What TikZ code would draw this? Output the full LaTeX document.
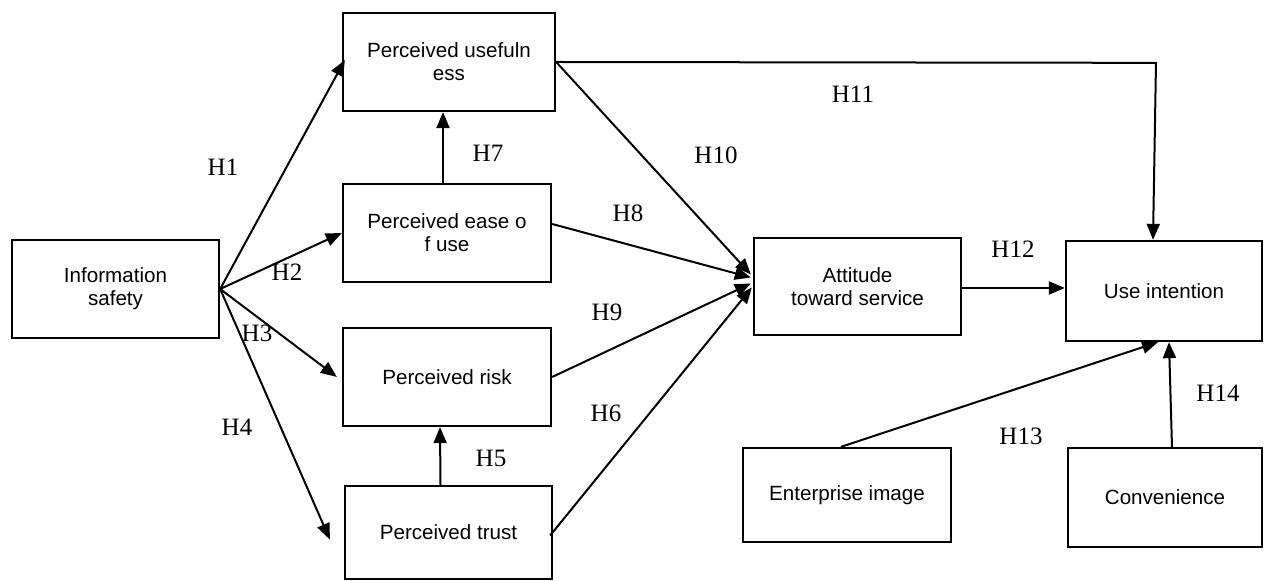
\documentclass[tikz,border=0pt]{standalone}
\usepackage{fontspec}
\setmainfont{Liberation Serif}
\setsansfont{Liberation Sans}
\usetikzlibrary{arrows.meta,calc}
\begin{document}
\begin{tikzpicture}[x=0.5pt,y=-0.5pt,
  box/.style={draw,line width=1.15pt,inner sep=0pt,align=center,
    font=\sffamily\fontsize{10.3}{11.5}\selectfont},
  arr/.style={line width=1pt,-{Triangle[length=8pt,width=6.5pt]}},
  lab/.style={font=\fontsize{12.5}{14}\selectfont,inner sep=0pt}]
\useasboundingbox (0,0) rectangle (1265,581);
% boxes
\node[box,minimum width=103.5pt,minimum height=49pt] (info) at (115.5,289) {Information\\safety};
\node[box,minimum width=106pt,minimum height=49pt] (pu) at (449,62) {Perceived usefuln\\ess};
\node[box,minimum width=104pt,minimum height=49pt] (peou) at (447,233) {Perceived ease o\\f use};
\node[box,minimum width=104pt,minimum height=49pt] (risk) at (447,377) {Perceived risk};
\node[box,minimum width=103.5pt,minimum height=46.5pt] (trust) at (448.5,532.5) {Perceived trust};
\node[box,minimum width=103.5pt,minimum height=48.5pt] (att) at (857.5,286.5) {Attitude\\toward service};
\node[box,minimum width=98pt,minimum height=50pt] (ui) at (1164,291) {Use intention};
\node[box,minimum width=104pt,minimum height=47pt] (ent) at (847,495) {Enterprise image};
\node[box,minimum width=97pt,minimum height=49.5pt] (conv) at (1165,497.5) {Convenience};
% connectors
\draw[arr] (info.east) -- ($(pu.west)+(3,-2)$);
\draw[arr] (info.east) -- (peou.west);
\draw[arr] (info.east) -- ($(risk.west)+(-5,0)$);
\draw[arr] (info.east) -- ($(trust.west)+(-14,7)$);
\draw[arr] ($(peou.north)+(-4,0)$) -- ($(pu.south)+(-6,0)$);
\draw[arr] ($(trust.north)+(-8,0)$) -- ($(risk.south)+(-7,0)$);
\draw[arr] (pu.east) -- ($(att.west)+(-2,-12)$);
\draw[arr] ($(peou.east)+(0,-9)$) -- ($(att.west)+(-2,-9)$);
\draw[arr] (risk.east) -- ($(att.west)+(-2,-3)$);
\draw[arr] ($(trust.east)+(-3,3)$) -- ($(att.west)+(-1,1)$);
\draw[arr] (pu.east) -- ($(ui.north)+(-8,-177)$) -- ($(ui.north)+(-11,0)$);
\draw[arr] (att.east |- 0,288) -- (ui.west |- 0,288);
\draw[arr] ($(ent.north)+(-6,0)$) -- ($(ui.south)+(-6,0)$);
\draw[arr] ($(conv.north)+(7,0)$) -- ($(ui.south)+(5,0)$);
% labels
\node[lab] (h1) at (223,167) {H1};
\node[lab] (h2) at (287,272) {H2};
\node[lab] (h3) at (257,333) {H3};
\node[lab] (h4) at (237,427) {H4};
\node[lab] (h5) at (491,458) {H5};
\node[lab] (h6) at (606,413) {H6};
\node[lab] (h7) at (488,153) {H7};
\node[lab] (h8) at (628,213) {H8};
\node[lab] (h9) at (607,312) {H9};
\node[lab] (h10) at (716,155) {H10};
\node[lab] (h11) at (853,94) {H11};
\node[lab] (h12) at (1013,249) {H12};
\node[lab] (h13) at (1021,436) {H13};
\node[lab] (h14) at (1218,393) {H14};
\end{tikzpicture}
\end{document}
